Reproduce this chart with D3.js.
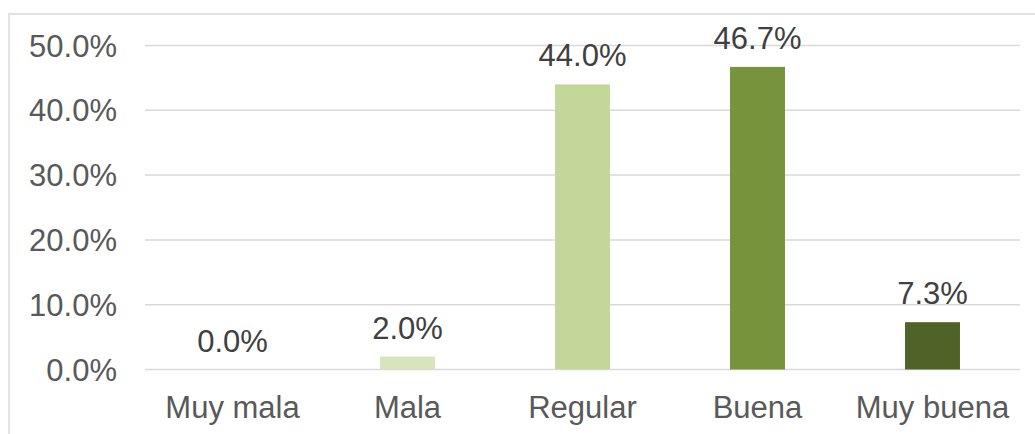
<!DOCTYPE html>
<html lang="es">
<head>
	<meta charset="UTF-8">
	<title>Calificación</title>
	<script src="https://d3js.org/d3.v7.min.js"></script>
	<style>
		html, body {
			margin: 0;
			padding: 0;
			background: #fff;
		}
		body {
			width: 1035px;
			height: 434px;
			overflow: hidden;
		}
		text {
			font-family: 'Liberation Sans', Arial, sans-serif;
			font-size: 31px;
		}
		.tick-label { fill: #595959; }
		.cat-label { fill: #595959; }
		.val-label { fill: #404040; }
	</style>
</head>
<body>
	<div id="chart"></div>
	<script>
		// data
		var categories = ['Muy mala', 'Mala', 'Regular', 'Buena', 'Muy buena'];
		var values = [0.0, 2.0, 44.0, 46.7, 7.3];
		var barColors = ['#ebf1de', '#d7e4bd', '#c4d79b', '#77933c', '#4f6228'];
		var yTicks = [0, 10, 20, 30, 40, 50];

		var width = 1035,
		    height = 434;

		var svg = d3.select('#chart')
			.append('svg')
			.attr('width', width)
			.attr('height', height);

		// outer chart border (runs off the right and bottom edges)
		svg.append('rect')
			.attr('x', 9)
			.attr('y', 14)
			.attr('width', 1040)
			.attr('height', 440)
			.attr('fill', 'none')
			.attr('stroke', '#d9d9d9')
			.attr('stroke-width', 1.5);

		var x = d3.scaleBand()
			.domain(categories)
			.range([145, 1020])
			.paddingInner(0.686)
			.paddingOuter(0.343);

		var y = d3.scaleLinear()
			.domain([0, 50])
			.range([369.5, 45.5]);

		// gridlines
		svg.append('g')
			.selectAll('line')
			.data(yTicks)
			.enter().append('line')
			.attr('x1', 145)
			.attr('x2', 1020)
			.attr('y1', function(d) { return y(d); })
			.attr('y2', function(d) { return y(d); })
			.attr('stroke', '#d9d9d9')
			.attr('stroke-width', 1.5);

		// y tick labels
		svg.append('g')
			.selectAll('text')
			.data(yTicks)
			.enter().append('text')
			.attr('class', 'tick-label')
			.attr('x', 117)
			.attr('y', function(d) { return y(d) + 11; })
			.attr('text-anchor', 'end')
			.text(function(d) { return d.toFixed(1) + '%'; });

		// bars
		svg.append('g')
			.selectAll('rect')
			.data(values)
			.enter().append('rect')
			.attr('x', function(d, i) { return x(categories[i]); })
			.attr('y', function(d) { return y(d); })
			.attr('width', x.bandwidth())
			.attr('height', function(d) { return y(0) - y(d); })
			.attr('fill', function(d, i) { return barColors[i]; });

		// value labels
		svg.append('g')
			.selectAll('text')
			.data(values)
			.enter().append('text')
			.attr('class', 'val-label')
			.attr('x', function(d, i) { return x(categories[i]) + x.bandwidth() / 2; })
			.attr('y', function(d) { return y(d) - 18; })
			.attr('text-anchor', 'middle')
			.text(function(d) { return d.toFixed(1) + '%'; });

		// category labels
		svg.append('g')
			.selectAll('text')
			.data(categories)
			.enter().append('text')
			.attr('class', 'cat-label')
			.attr('x', function(d) { return x(d) + x.bandwidth() / 2; })
			.attr('y', 418)
			.attr('text-anchor', 'middle')
			.text(function(d) { return d; });
	</script>
</body>
</html>
